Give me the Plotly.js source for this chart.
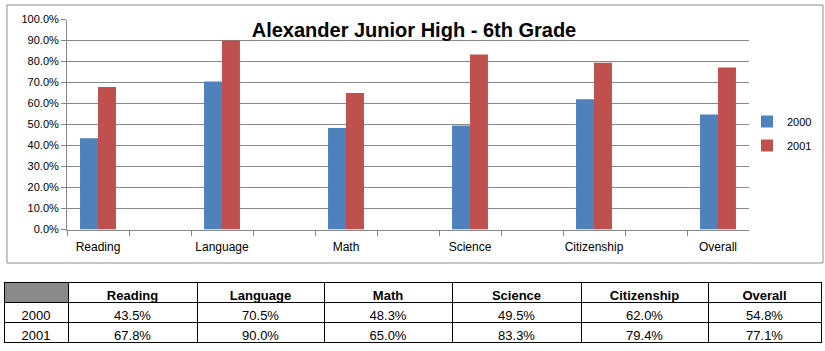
<!DOCTYPE html>
<html>
<head>
<meta charset="utf-8">
<script src="https://cdn.plot.ly/plotly-3.0.1.min.js"></script>
<style>
html,body{margin:0;padding:0;background:#fff;}
#chart{width:825px;height:351px;}
</style>
</head>
<body>
<div id="chart"></div>
<script>
// ---- data ----
const chartTitle = "Alexander Junior High - 6th Grade";
const categories = ["Reading", "Language", "Math", "Science", "Citizenship", "Overall"];
const years = ["2000", "2001"];
const values2000 = [0.435, 0.705, 0.483, 0.495, 0.620, 0.548];
const values2001 = [0.678, 0.900, 0.650, 0.833, 0.794, 0.771];
const yTickVals = [0, 0.1, 0.2, 0.3, 0.4, 0.5, 0.6, 0.7, 0.8, 0.9, 1.0];

// ---- helpers ----
const W = 825, H = 351;
const M = {l: 4, r: 4, t: 4, b: 4};
const PW = W - M.l - M.r, PH = H - M.t - M.b;
const px = x => (x - M.l) / PW;                 // pixel x -> paper
const py = y => (H - M.b - y) / PH;             // pixel y -> paper

// Excel chart has an empty column after each subject
const axisCats = [];
categories.forEach((c, i) => { axisCats.push(c); axisCats.push(" ".repeat(i + 1)); });

const pct = v => (v * 100).toFixed(1) + "%";
const baseFont = "Liberation Sans, Arial, sans-serif";
const blue = "#4F81BD", red = "#C0504D", grid = "#878787";

const traces = [
  {type: "bar", name: years[0], x: categories, y: values2000, marker: {color: blue},
   legendgroup: "a", hoverinfo: "skip", xaxis: "x", yaxis: "y"},
  {type: "bar", name: years[1], x: categories, y: values2001, marker: {color: red},
   legendgroup: "b", hoverinfo: "skip", xaxis: "x", yaxis: "y"},
  {type: "table",
   domain: {x: [0, 1], y: [0, py(282)]},
   columnwidth: [64, 129, 127, 128, 129, 127, 113],
   header: {
     values: [""].concat(categories),
     height: 20,
     align: "center",
     line: {color: "#000", width: 1},
     fill: {color: ["#8a8a8a"].concat(categories.map(() => "#ffffff"))},
     font: {family: baseFont, size: 13, color: "#000", weight: "bold"}
   },
   cells: {
     values: [years].concat(categories.map((c, i) => [pct(values2000[i]), pct(values2001[i])])),
     height: 20,
     align: "center",
     line: {color: "#000", width: 1},
     fill: {color: "#ffffff"},
     font: {family: baseFont, size: 13, color: "#000"}
   }
  }
];

const layout = {
  width: W, height: H,
  margin: M,
  paper_bgcolor: "#fff", plot_bgcolor: "#fff",
  font: {family: baseFont, size: 11, color: "#000"},
  barmode: "group",
  bargap: 0.42, bargroupgap: 0,
  showlegend: true,
  legend: {x: px(747), y: py(107), xanchor: "left", yanchor: "top",
           font: {family: baseFont, size: 11, color: "#000"},
           tracegroupgap: 5, itemwidth: 30, bgcolor: "rgba(0,0,0,0)"},
  title: {text: "<b>" + chartTitle + "</b>",
          font: {family: "Liberation Sans, Arial, sans-serif", size: 20, color: "#000"},
          x: px(414), xref: "paper", xanchor: "center",
          y: 1 - 30 / H, yref: "container", yanchor: "middle"},
  xaxis: {
    type: "category", categoryorder: "array", categoryarray: axisCats,
    domain: [px(67), px(749)],
    anchor: "y", automargin: false,
    showgrid: false, zeroline: false,
    showline: true, linecolor: grid, linewidth: 1,
    ticks: "outside", tickson: "boundaries", ticklen: 5, tickcolor: grid,
    tickangle: 0, ticklabelstandoff: 6,
    tickfont: {family: baseFont, size: 12, color: "#000"},
    fixedrange: true
  },
  yaxis: {
    domain: [py(229.5), py(19.5)],
    anchor: "x", automargin: false,
    range: [0, 1],
    tickvals: yTickVals,
    tickformat: ".1%",
    showgrid: true, gridcolor: grid, gridwidth: 1,
    zeroline: false,
    showline: true, linecolor: grid, linewidth: 1,
    ticks: "outside", ticklen: 5, tickcolor: grid,
    tickfont: {family: baseFont, size: 11, color: "#000"},
    fixedrange: true
  },
  shapes: [
    {type: "rect", xref: "paper", yref: "paper",
     x0: px(7), x1: px(823), y0: py(263), y1: py(5),
     line: {color: "#8c8c8c", width: 1}, fillcolor: "rgba(0,0,0,0)", layer: "below"}
  ]
};

Plotly.newPlot("chart", traces, layout, {staticPlot: true, displayModeBar: false});
</script>
</body>
</html>
